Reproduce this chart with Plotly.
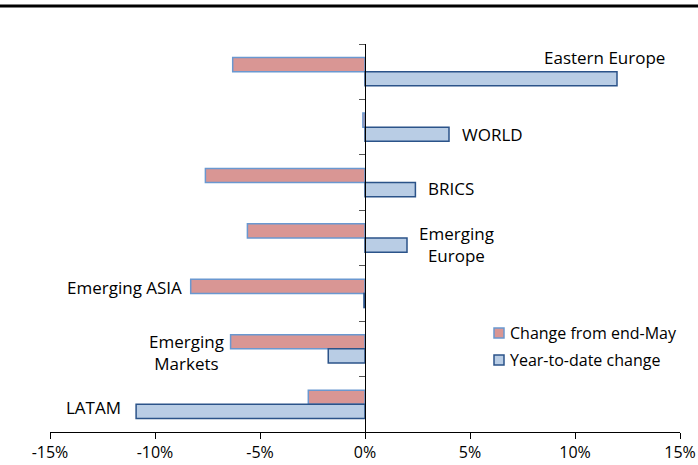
import plotly.graph_objects as go

# Regions, top to bottom
regions = ["Eastern Europe", "WORLD", "BRICS", "Emerging Europe",
           "Emerging ASIA", "Emerging Markets", "LATAM"]
# Percentage changes
change_end_may = [-6.3, -0.1, -7.6, -5.6, -8.3, -6.4, -2.7]
ytd_change = [12.0, 4.0, 2.4, 2.0, -0.05, -1.75, -10.9]

x_ticks = [-15, -10, -5, 0, 5, 10, 15]
x_tick_text = ["-15%", "-10%", "-5%", "0%", "5%", "10%", "15%"]

series_names = ["Change from end-May", "Year-to-date change"]
fill_colors = ["#D99694", "#B9CDE5"]
edge_colors = ["#6A98D0", "#2B5389"]

FONT = "Open Sans"
W, H = 698, 465
ML, MR, MT, MB = 50, 18, 44, 33
PW, PH = W - ML - MR, H - MT - MB


def px_x(p):
    return (p - ML) / PW


def px_y(p):
    return (H - MB - p) / PH


fig = go.Figure()
for name, vals, fc, ec in zip(series_names, [change_end_may, ytd_change],
                              fill_colors, edge_colors):
    fig.add_trace(go.Bar(
        y=regions, x=vals, orientation="h", name=name, showlegend=False,
        marker=dict(color=fc, line=dict(color=ec, width=1.5)),
    ))

# Region labels placed next to their bars: (category, x, text, anchor, yshift, xshift)
labels = [
    ("Eastern Europe", 14.4, "Eastern Europe", "right", 14, 0),
    ("WORLD", 4.0, "WORLD", "left", -7, 11),
    ("BRICS", 2.4, "BRICS", "left", -6, 11),
    ("Emerging Europe", 2.0, "Emerging<br>Europe", "left", -6, 10),
    ("Emerging ASIA", -8.3, "Emerging ASIA", "right", 6, -7),
    ("Emerging Markets", -6.4, "Emerging<br>Markets", "right", -4, -5),
    ("LATAM", -10.9, "LATAM", "right", -3, -13),
]
for cat, xv, txt, anchor, dy, dx in labels:
    fig.add_annotation(
        x=xv, y=cat, text=txt, showarrow=False, xanchor=anchor,
        align="center", yshift=dy, xshift=dx,
        font=dict(family=FONT, size=17, color="#000000"),
    )

# Legend drawn as swatches with text beside them
for i, (name, fc, ec) in enumerate(zip(series_names, fill_colors, edge_colors)):
    yc = 333 + 27 * i
    fig.add_shape(type="rect", xref="paper", yref="paper",
                  x0=px_x(494), x1=px_x(504), y0=px_y(yc + 5), y1=px_y(yc - 5),
                  fillcolor=fc, line=dict(color=ec, width=1.5))
    fig.add_annotation(xref="paper", yref="paper", x=px_x(508), y=px_y(yc),
                       text=name, showarrow=False, xanchor="left",
                       yanchor="middle",
                       font=dict(family=FONT, size=16, color="#000000"))

# Heavy rule across the top
fig.add_shape(type="line", xref="paper", yref="paper",
              x0=px_x(0), x1=px_x(W), y0=px_y(6), y1=px_y(6),
              line=dict(color="#000000", width=3))

fig.update_layout(
    width=W, height=H,
    margin=dict(l=ML, r=MR, t=MT, b=MB, autoexpand=False),
    paper_bgcolor="white", plot_bgcolor="white",
    barmode="group", bargap=0.49, bargroupgap=0,
    font=dict(family=FONT, size=16, color="#000000"),
    showlegend=False,
    xaxis=dict(range=[-15, 15], tickvals=x_ticks, ticktext=x_tick_text,
               showgrid=False, zeroline=False, showline=True,
               linecolor="#000000", linewidth=1, ticks="outside",
               ticklen=6, tickcolor="#000000", automargin=False,
               tickfont=dict(size=16)),
    yaxis=dict(categoryorder="array", categoryarray=regions,
               autorange="reversed", anchor="free", position=0.5,
               showticklabels=False, showgrid=False, zeroline=False,
               showline=True, linecolor="#000000", linewidth=1,
               ticks="outside", tickson="boundaries", ticklen=6,
               tickcolor="#555555", automargin=False),
)

fig.write_html("out.html")
